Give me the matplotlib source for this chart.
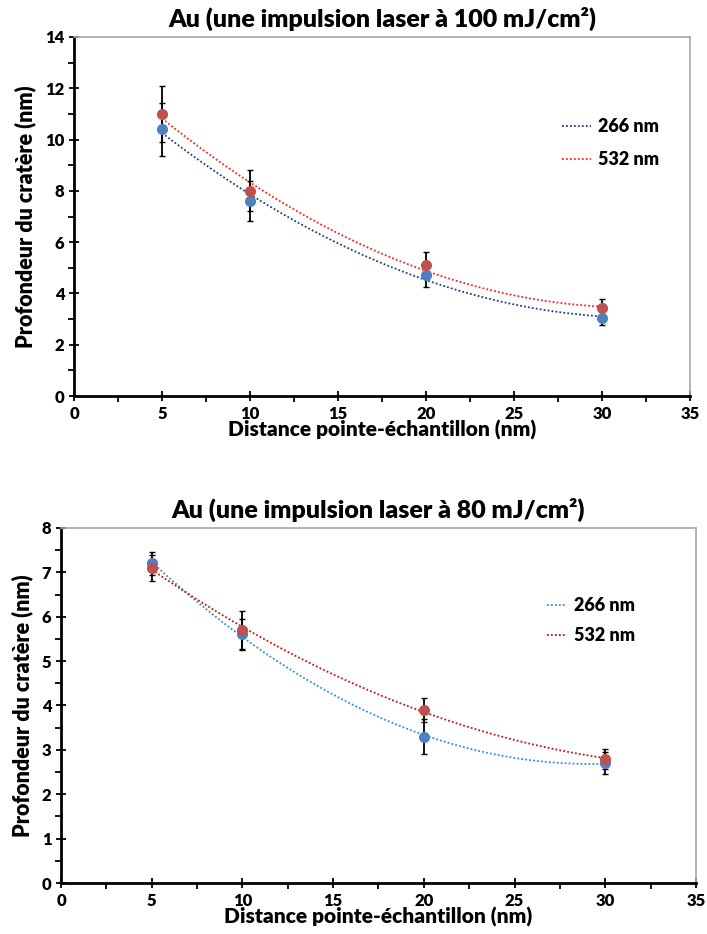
import numpy as np
import matplotlib
matplotlib.use("Agg")
import matplotlib.pyplot as plt
from matplotlib.ticker import MultipleLocator

plt.rcParams['font.family'] = ['Lato', 'DejaVu Sans']
plt.rcParams['font.weight'] = 'bold'

distance = [5, 10, 20, 30]

# Au, 100 mJ/cm2
top_266 = [10.4, 7.6, 4.7, 3.05]
top_266_err = [1.04, 0.78, 0.45, 0.3]
top_532 = [11.0, 8.0, 5.1, 3.42]
top_532_err = [1.1, 0.8, 0.5, 0.35]

# Au, 80 mJ/cm2
bot_266 = [7.2, 5.6, 3.3, 2.7]
bot_266_err = [0.25, 0.35, 0.4, 0.25]
bot_532 = [7.1, 5.7, 3.9, 2.8]
bot_532_err = [0.3, 0.42, 0.28, 0.22]

titles = ["Au (une impulsion laser à 100 mJ/cm²)", "Au (une impulsion laser à 80 mJ/cm²)"]
xlabel = "Distance pointe-échantillon (nm)"
ylabel = "Profondeur du cratère (nm)"
labels = ["266 nm", "532 nm"]

blue_pt = "#4f81bd"
red_pt = "#c0504d"
W = 'heavy'

fig = plt.figure(figsize=(7.07, 9.34), dpi=100)
ax1 = fig.add_axes([0.1047, 0.576, 0.871, 0.3844])
ax2 = fig.add_axes([0.0863, 0.0546, 0.898, 0.3801])


def draw(ax, y1, e1, y2, e2, c1, c2, ymax, ymajor, yminor, title, leg_pos, hlen, lspace):
    xs = np.linspace(5, 30, 200)
    # polynomial (order 2) trend lines like the spreadsheet
    p1 = np.polyfit(distance, y1, 2)
    p2 = np.polyfit(distance, y2, 2)
    l1, = ax.plot(xs, np.polyval(p1, xs), ls=(0, (1, 1.2)), color=c1, lw=1.3, zorder=2)
    l2, = ax.plot(xs, np.polyval(p2, xs), ls=(0, (1, 1.2)), color=c2, lw=1.3, zorder=2)
    ax.errorbar(distance, y1, yerr=e1, fmt='none', ecolor='black', elinewidth=1.3, capsize=2, capthick=1, zorder=3)
    ax.errorbar(distance, y2, yerr=e2, fmt='none', ecolor='black', elinewidth=1.3, capsize=2, capthick=1, zorder=3)
    ax.plot(distance, y1, 'o', color=blue_pt, ms=7, zorder=4)
    ax.plot(distance, y2, 'o', color=red_pt, ms=7, zorder=4)

    ax.set_xlim(0, 35)
    ax.set_ylim(0, ymax)
    ax.xaxis.set_major_locator(MultipleLocator(5))
    ax.xaxis.set_minor_locator(MultipleLocator(2.5))
    ax.yaxis.set_major_locator(MultipleLocator(ymajor))
    ax.yaxis.set_minor_locator(MultipleLocator(yminor))
    ax.tick_params(which='major', direction='inout', length=7, width=1.3, labelsize=12)
    ax.tick_params(which='minor', direction='out', length=4, width=1.3)
    for s in ['left', 'bottom']:
        ax.spines[s].set_linewidth(2)
        ax.spines[s].set_color('black')
    for s in ['top', 'right']:
        ax.spines[s].set_linewidth(1.2)
        ax.spines[s].set_color('#a6a6a6')
    for lab in ax.get_xticklabels() + ax.get_yticklabels():
        lab.set_fontweight(W)
    ax.set_xlabel(xlabel, fontsize=15, fontweight=W, labelpad=-1)
    ax.set_ylabel(ylabel, fontsize=15.5, fontweight=W, labelpad=6)
    ax.set_title(title, fontsize=18, fontweight=W, pad=7)
    leg = ax.legend([l1, l2], labels, loc='upper left', bbox_to_anchor=leg_pos, frameon=False,
                    prop={'weight': W, 'size': 13}, handlelength=hlen, handletextpad=0.4,
                    labelspacing=lspace)
    return leg


draw(ax1, top_266, top_266_err, top_532, top_532_err, "#1f3c88", "#ff2020",
     14, 2, 1, titles[0], (0.766, 0.82), 1.6, 0.9)
draw(ax2, bot_266, bot_266_err, bot_532, bot_532_err, "#2a8ee8", "#d01010",
     8, 1, 0.5, titles[1], (0.74, 0.85), 1.1, 0.7)

fig.savefig("out.png", dpi=100)
